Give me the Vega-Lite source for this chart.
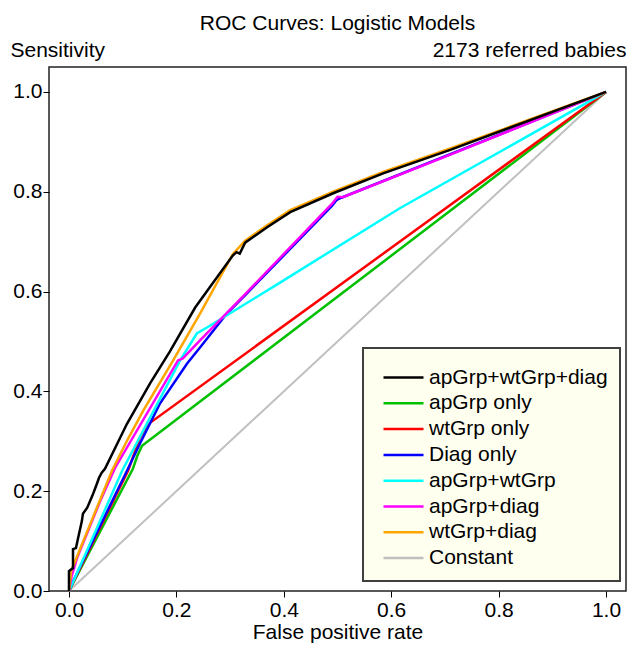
{
  "$schema": "https://vega.github.io/schema/vega-lite/v6.json",
  "width": 577,
  "height": 524,
  "autosize": {"type": "none"},
  "padding": {"left": 49, "top": 67, "right": 4, "bottom": 55},
  "background": "white",
  "config": {
    "font": "Liberation Sans",
    "view": {"stroke": "#222222", "strokeWidth": 1.5},
    "axis": {"grid": false}
  },
  "title": {
    "text": "ROC Curves: Logistic Models",
    "fontSize": 21,
    "fontWeight": "normal",
    "color": "#000000",
    "anchor": "middle",
    "offset": 5
  },
  "datasets": {
    "roc": [
      {"model": "Constant", "i": 0, "fpr": 0, "tpr": 0},
      {"model": "Constant", "i": 1, "fpr": 1, "tpr": 1},

      {"model": "apGrp only", "i": 0, "fpr": 0, "tpr": 0},
      {"model": "apGrp only", "i": 1, "fpr": 0.119, "tpr": 0.245},
      {"model": "apGrp only", "i": 2, "fpr": 0.127, "tpr": 0.27},
      {"model": "apGrp only", "i": 3, "fpr": 0.136, "tpr": 0.291},
      {"model": "apGrp only", "i": 4, "fpr": 1, "tpr": 1},

      {"model": "wtGrp only", "i": 0, "fpr": 0, "tpr": 0},
      {"model": "wtGrp only", "i": 1, "fpr": 0.11, "tpr": 0.241},
      {"model": "wtGrp only", "i": 2, "fpr": 0.132, "tpr": 0.307},
      {"model": "wtGrp only", "i": 3, "fpr": 0.138, "tpr": 0.318},
      {"model": "wtGrp only", "i": 4, "fpr": 0.151, "tpr": 0.337},
      {"model": "wtGrp only", "i": 5, "fpr": 1, "tpr": 1},

      {"model": "Diag only", "i": 0, "fpr": 0, "tpr": 0},
      {"model": "Diag only", "i": 1, "fpr": 0.007, "tpr": 0.018},
      {"model": "Diag only", "i": 2, "fpr": 0.108, "tpr": 0.241},
      {"model": "Diag only", "i": 3, "fpr": 0.132, "tpr": 0.295},
      {"model": "Diag only", "i": 4, "fpr": 0.169, "tpr": 0.375},
      {"model": "Diag only", "i": 5, "fpr": 0.22, "tpr": 0.456},
      {"model": "Diag only", "i": 6, "fpr": 0.244, "tpr": 0.488},
      {"model": "Diag only", "i": 7, "fpr": 0.294, "tpr": 0.556},
      {"model": "Diag only", "i": 8, "fpr": 0.33, "tpr": 0.595},
      {"model": "Diag only", "i": 9, "fpr": 0.49, "tpr": 0.772},
      {"model": "Diag only", "i": 10, "fpr": 0.498, "tpr": 0.783},
      {"model": "Diag only", "i": 11, "fpr": 0.507, "tpr": 0.788},
      {"model": "Diag only", "i": 12, "fpr": 1, "tpr": 1},

      {"model": "apGrp+wtGrp", "i": 0, "fpr": 0, "tpr": 0},
      {"model": "apGrp+wtGrp", "i": 1, "fpr": 0.011, "tpr": 0.026},
      {"model": "apGrp+wtGrp", "i": 2, "fpr": 0.099, "tpr": 0.241},
      {"model": "apGrp+wtGrp", "i": 3, "fpr": 0.207, "tpr": 0.462},
      {"model": "apGrp+wtGrp", "i": 4, "fpr": 0.238, "tpr": 0.516},
      {"model": "apGrp+wtGrp", "i": 5, "fpr": 0.257, "tpr": 0.528},
      {"model": "apGrp+wtGrp", "i": 6, "fpr": 0.393, "tpr": 0.618},
      {"model": "apGrp+wtGrp", "i": 7, "fpr": 0.616, "tpr": 0.767},
      {"model": "apGrp+wtGrp", "i": 8, "fpr": 1, "tpr": 1},

      {"model": "apGrp+diag", "i": 0, "fpr": 0, "tpr": 0},
      {"model": "apGrp+diag", "i": 1, "fpr": 0.005, "tpr": 0.03},
      {"model": "apGrp+diag", "i": 2, "fpr": 0.015, "tpr": 0.066},
      {"model": "apGrp+diag", "i": 3, "fpr": 0.058, "tpr": 0.18},
      {"model": "apGrp+diag", "i": 4, "fpr": 0.086, "tpr": 0.247},
      {"model": "apGrp+diag", "i": 5, "fpr": 0.203, "tpr": 0.462},
      {"model": "apGrp+diag", "i": 6, "fpr": 0.212, "tpr": 0.466},
      {"model": "apGrp+diag", "i": 7, "fpr": 0.244, "tpr": 0.502},
      {"model": "apGrp+diag", "i": 8, "fpr": 0.33, "tpr": 0.597},
      {"model": "apGrp+diag", "i": 9, "fpr": 0.49, "tpr": 0.776},
      {"model": "apGrp+diag", "i": 10, "fpr": 0.5, "tpr": 0.79},
      {"model": "apGrp+diag", "i": 11, "fpr": 0.51, "tpr": 0.789},
      {"model": "apGrp+diag", "i": 12, "fpr": 0.709, "tpr": 0.874},
      {"model": "apGrp+diag", "i": 13, "fpr": 1, "tpr": 1},

      {"model": "wtGrp+diag", "i": 0, "fpr": 0, "tpr": 0},
      {"model": "wtGrp+diag", "i": 1, "fpr": 0.004, "tpr": 0.04},
      {"model": "wtGrp+diag", "i": 2, "fpr": 0.08, "tpr": 0.241},
      {"model": "wtGrp+diag", "i": 3, "fpr": 0.108, "tpr": 0.301},
      {"model": "wtGrp+diag", "i": 4, "fpr": 0.138, "tpr": 0.361},
      {"model": "wtGrp+diag", "i": 5, "fpr": 0.194, "tpr": 0.462},
      {"model": "wtGrp+diag", "i": 6, "fpr": 0.244, "tpr": 0.556},
      {"model": "wtGrp+diag", "i": 7, "fpr": 0.305, "tpr": 0.675},
      {"model": "wtGrp+diag", "i": 8, "fpr": 0.328, "tpr": 0.702},
      {"model": "wtGrp+diag", "i": 9, "fpr": 0.369, "tpr": 0.733},
      {"model": "wtGrp+diag", "i": 10, "fpr": 0.412, "tpr": 0.763},
      {"model": "wtGrp+diag", "i": 11, "fpr": 0.492, "tpr": 0.8},
      {"model": "wtGrp+diag", "i": 12, "fpr": 0.585, "tpr": 0.84},
      {"model": "wtGrp+diag", "i": 13, "fpr": 0.71, "tpr": 0.887},
      {"model": "wtGrp+diag", "i": 14, "fpr": 1, "tpr": 1},

      {"model": "apGrp+wtGrp+diag", "i": 0, "fpr": 0, "tpr": 0},
      {"model": "apGrp+wtGrp+diag", "i": 1, "fpr": 0, "tpr": 0.04},
      {"model": "apGrp+wtGrp+diag", "i": 2, "fpr": 0.0075, "tpr": 0.046},
      {"model": "apGrp+wtGrp+diag", "i": 3, "fpr": 0.0075, "tpr": 0.084},
      {"model": "apGrp+wtGrp+diag", "i": 4, "fpr": 0.013, "tpr": 0.086},
      {"model": "apGrp+wtGrp+diag", "i": 5, "fpr": 0.017, "tpr": 0.106},
      {"model": "apGrp+wtGrp+diag", "i": 6, "fpr": 0.024, "tpr": 0.14},
      {"model": "apGrp+wtGrp+diag", "i": 7, "fpr": 0.026, "tpr": 0.155},
      {"model": "apGrp+wtGrp+diag", "i": 8, "fpr": 0.034, "tpr": 0.167},
      {"model": "apGrp+wtGrp+diag", "i": 9, "fpr": 0.045, "tpr": 0.195},
      {"model": "apGrp+wtGrp+diag", "i": 10, "fpr": 0.052, "tpr": 0.215},
      {"model": "apGrp+wtGrp+diag", "i": 11, "fpr": 0.056, "tpr": 0.227},
      {"model": "apGrp+wtGrp+diag", "i": 12, "fpr": 0.061, "tpr": 0.237},
      {"model": "apGrp+wtGrp+diag", "i": 13, "fpr": 0.067, "tpr": 0.245},
      {"model": "apGrp+wtGrp+diag", "i": 14, "fpr": 0.108, "tpr": 0.335},
      {"model": "apGrp+wtGrp+diag", "i": 15, "fpr": 0.151, "tpr": 0.416},
      {"model": "apGrp+wtGrp+diag", "i": 16, "fpr": 0.188, "tpr": 0.48},
      {"model": "apGrp+wtGrp+diag", "i": 17, "fpr": 0.235, "tpr": 0.568},
      {"model": "apGrp+wtGrp+diag", "i": 18, "fpr": 0.276, "tpr": 0.629},
      {"model": "apGrp+wtGrp+diag", "i": 19, "fpr": 0.305, "tpr": 0.672},
      {"model": "apGrp+wtGrp+diag", "i": 20, "fpr": 0.312, "tpr": 0.679},
      {"model": "apGrp+wtGrp+diag", "i": 21, "fpr": 0.318, "tpr": 0.676},
      {"model": "apGrp+wtGrp+diag", "i": 22, "fpr": 0.328, "tpr": 0.698},
      {"model": "apGrp+wtGrp+diag", "i": 23, "fpr": 0.369, "tpr": 0.729},
      {"model": "apGrp+wtGrp+diag", "i": 24, "fpr": 0.412, "tpr": 0.759},
      {"model": "apGrp+wtGrp+diag", "i": 25, "fpr": 0.492, "tpr": 0.797},
      {"model": "apGrp+wtGrp+diag", "i": 26, "fpr": 0.585, "tpr": 0.837},
      {"model": "apGrp+wtGrp+diag", "i": 27, "fpr": 0.71, "tpr": 0.884},
      {"model": "apGrp+wtGrp+diag", "i": 28, "fpr": 1, "tpr": 1}
    ]
  },
  "data": {"name": "roc"},
  "encoding": {
    "x": {
      "field": "fpr",
      "type": "quantitative",
      "scale": {"domain": [-0.0372, 1.0372], "nice": false, "zero": false},
      "axis": {
        "title": "False positive rate",
        "titleFontSize": 21,
        "titleFontWeight": "normal",
        "titleColor": "#000000",
        "titlePadding": 1,
        "values": [0, 0.2, 0.4, 0.6, 0.8, 1],
        "format": ".1f",
        "labelFontSize": 21,
        "labelColor": "#000000",
        "labelPadding": 2,
        "labelFlush": false,
        "labelOverlap": false,
        "tickColor": "#000000",
        "tickSize": 6,
        "domain": false,
        "grid": false
      }
    },
    "color": {
      "field": "model",
      "type": "nominal",
      "scale": {
        "domain": ["apGrp+wtGrp+diag", "apGrp only", "wtGrp only", "Diag only", "apGrp+wtGrp", "apGrp+diag", "wtGrp+diag", "Constant"],
        "range": ["#000000", "#00c000", "#ff0000", "#0000ff", "#00ffff", "#ff00ff", "#ffa500", "#c0c0c0"]
      },
      "legend": {
        "orient": "none",
        "legendX": 314,
        "legendY": 281,
        "title": " ",
        "titleFontSize": 4,
        "titlePadding": 2,
        "padding": 12,
        "fillColor": "#fffff0",
        "strokeColor": "#404040",
        "symbolType": "M-2,0H2",
        "symbolSize": 400,
        "symbolStrokeWidth": 2.5,
        "symbolOffset": 17,
        "labelOffset": 14,
        "labelFontSize": 21,
        "labelColor": "#000000",
        "labelLimit": 400,
        "rowPadding": 3.8,
        "encode": {
          "legend": {"update": {"stroke": {"value": "#404040"}, "strokeWidth": {"value": 2}}}
        }
      }
    },
    "order": {"field": "i", "type": "quantitative"}
  },
  "layer": [
    {
      "transform": [{"filter": "datum.model === 'Constant'"}],
      "mark": {"type": "line", "strokeWidth": 2},
      "encoding": {
        "y": {
          "field": "tpr",
          "type": "quantitative",
          "scale": {"domain": [0, 1.05], "nice": false, "zero": false},
          "axis": {
            "orient": "right",
            "labels": false,
            "ticks": false,
            "domain": false,
            "grid": false,
            "title": "2173 referred babies",
            "titleAngle": 0,
            "titleAlign": "right",
            "titleBaseline": "alphabetic",
            "titleX": 0,
            "titleY": -11,
            "titleFontSize": 21,
            "titleFontWeight": "normal",
            "titleColor": "#000000"
          }
        }
      }
    },
    {
      "transform": [{"filter": "datum.model !== 'Constant'"}],
      "mark": {"type": "line", "strokeWidth": 2.5},
      "encoding": {
        "y": {
          "field": "tpr",
          "type": "quantitative",
          "scale": {"domain": [0, 1.05], "nice": false, "zero": false},
          "axis": {
            "orient": "left",
            "values": [0, 0.2, 0.4, 0.6, 0.8, 1],
            "format": ".1f",
            "labelFontSize": 21,
            "labelColor": "#000000",
            "labelPadding": 1,
            "labelFlush": false,
            "labelOverlap": false,
            "tickColor": "#000000",
            "tickSize": 6,
            "domain": false,
            "grid": false,
            "title": "Sensitivity",
            "titleAngle": 0,
            "titleAlign": "left",
            "titleBaseline": "alphabetic",
            "titleX": -39,
            "titleY": -11,
            "titleFontSize": 21,
            "titleFontWeight": "normal",
            "titleColor": "#000000"
          }
        }
      }
    }
  ],
  "resolve": {"axis": {"y": "independent"}}
}
